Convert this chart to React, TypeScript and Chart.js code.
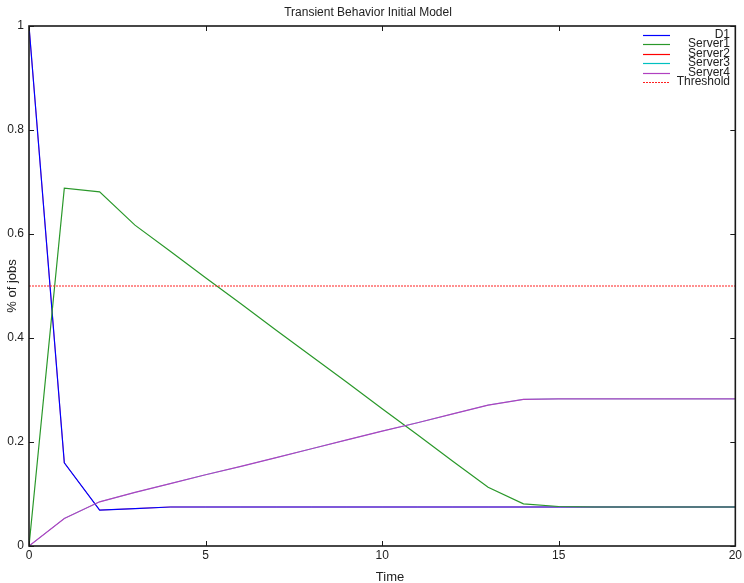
import React, { useEffect, useRef } from "react";
import { Chart, registerables } from "chart.js";

Chart.register(...registerables);

const times = [0, 1, 2, 3, 4, 5, 6, 7, 8, 9, 10, 11, 12, 13, 14, 15, 16, 17, 18, 19, 20];
const d1 = [1, 0.16, 0.069, 0.072, 0.075, 0.075, 0.075, 0.075, 0.075, 0.075, 0.075, 0.075, 0.075, 0.075, 0.075, 0.075, 0.075, 0.075, 0.075, 0.075, 0.075];
const server1 = [0, 0.688, 0.681, 0.617, 0.567, 0.516, 0.466, 0.415, 0.365, 0.315, 0.264, 0.214, 0.163, 0.113, 0.081, 0.076, 0.075, 0.075, 0.075, 0.075, 0.075];
const server2 = [1, 0.16, 0.069, 0.072, 0.075, 0.075, 0.075, 0.075, 0.075, 0.075, 0.075, 0.075, 0.075, 0.075, 0.075, 0.075, 0.075, 0.075, 0.075, 0.075, 0.075];
const server3 = [0, 0.053, 0.085, 0.103, 0.12, 0.137, 0.153, 0.17, 0.187, 0.204, 0.221, 0.237, 0.254, 0.271, 0.282, 0.283, 0.283, 0.283, 0.283, 0.283, 0.283];
const server4 = [0, 0.053, 0.085, 0.103, 0.12, 0.137, 0.153, 0.17, 0.187, 0.204, 0.221, 0.237, 0.254, 0.271, 0.282, 0.283, 0.283, 0.283, 0.283, 0.283, 0.283];
const thresholdTimes = [0, 20];
const thresholdValues = [0.5, 0.5];

const seriesNames = ["D1", "Server1", "Server2", "Server3", "Server4", "Threshold"];
const xTicks = [0, 5, 10, 15, 20];
const yTicks = [0, 0.2, 0.4, 0.6, 0.8, 1];
const chartTitle = "Transient Behavior Initial Model";
const xTitle = "Time";
const yTitle = "% of jobs";

const FONT = "'Liberation Sans', Arial, Helvetica, sans-serif";

const toPts = (xs: number[], ys: number[]) => xs.map((x, i) => ({ x, y: ys[i] }));

const framePlugin = {
  id: "frame",
  afterDatasetsDraw(chart: any) {
    const { ctx, chartArea } = chart;
    const { left, right, top, bottom } = chartArea;
    const xs = chart.scales.x;
    const ys = chart.scales.y;
    ctx.save();
    ctx.strokeStyle = "#1a1a1a";
    ctx.lineWidth = 1;
    ctx.beginPath();
    xTicks.forEach((v) => {
      const px = Math.round(xs.getPixelForValue(v)) + 0.5;
      ctx.moveTo(px, bottom);
      ctx.lineTo(px, bottom - 5);
      ctx.moveTo(px, top);
      ctx.lineTo(px, top + 5);
    });
    yTicks.forEach((v) => {
      const py = Math.round(ys.getPixelForValue(v)) + 0.5;
      ctx.moveTo(left, py);
      ctx.lineTo(left + 5, py);
      ctx.moveTo(right, py);
      ctx.lineTo(right - 5, py);
    });
    ctx.stroke();
    ctx.lineWidth = 1.6;
    ctx.strokeRect(left, top, right - left, bottom - top);

    ctx.fillStyle = "#222";
    ctx.font = `13px ${FONT}`;
    ctx.textAlign = "center";
    ctx.textBaseline = "middle";
    ctx.fillText(xTitle, 390, 577);
    ctx.save();
    ctx.translate(12.5, (top + bottom) / 2);
    ctx.rotate(-Math.PI / 2);
    ctx.fillText(yTitle, 0, 0);
    ctx.restore();
    ctx.restore();
  },
};

const legendPlugin = {
  id: "customLegend",
  afterDraw(chart: any) {
    const { ctx } = chart;
    ctx.save();
    ctx.font = `12px ${FONT}`;
    ctx.textAlign = "right";
    ctx.textBaseline = "middle";
    chart.data.datasets.forEach((ds: any, i: number) => {
      const y = 34.5 + i * 9.5;
      ctx.strokeStyle = ds.borderColor;
      ctx.lineWidth = 1.2;
      ctx.setLineDash(ds.borderDash || []);
      ctx.beginPath();
      ctx.moveTo(643, Math.round(y) + 0.5);
      ctx.lineTo(670, Math.round(y) + 0.5);
      ctx.stroke();
      ctx.setLineDash([]);
      ctx.fillStyle = "#222";
      ctx.fillText(ds.label, 730, y);
    });
    ctx.restore();
  },
};

export default function App() {
  const ref = useRef<HTMLCanvasElement>(null);
  useEffect(() => {
    if (!ref.current) return;
    const common = { borderWidth: 1.2, pointRadius: 0, fill: false, tension: 0 };
    const chart = new Chart(ref.current, {
      type: "line",
      data: {
        datasets: [
          { ...common, label: seriesNames[0], data: toPts(times, d1), borderColor: "#0000ff", order: 4 },
          { ...common, label: seriesNames[1], data: toPts(times, server1), borderColor: "#2a982a", order: 3 },
          { ...common, label: seriesNames[2], data: toPts(times, server2), borderColor: "#ff0000", borderWidth: 0.6, order: 5 },
          { ...common, label: seriesNames[3], data: toPts(times, server3), borderColor: "#00c0c0", borderWidth: 0.6, order: 2 },
          { ...common, label: seriesNames[4], data: toPts(times, server4), borderColor: "#b040c0", order: 1 },
          { ...common, label: seriesNames[5], data: toPts(thresholdTimes, thresholdValues), borderColor: "#ff2020", borderDash: [2, 1], order: 0 },
        ] as any,
      },
      options: {
        responsive: false,
        animation: false,
        layout: { padding: { top: 0, right: 8, bottom: 0, left: 0 } },
        plugins: {
          legend: { display: false },
          tooltip: { enabled: false },
          title: {
            display: true,
            text: chartTitle,
            color: "#222",
            font: { family: FONT, size: 12, weight: "normal", lineHeight: 1.2 },
            padding: { top: 5, bottom: 6.6 },
          },
        },
        scales: {
          x: {
            type: "linear",
            min: 0,
            max: 20,
            grid: { display: false, drawTicks: false },
            border: { display: false },
            afterBuildTicks: (s: any) => { s.ticks = xTicks.map((v) => ({ value: v })); },
            ticks: { color: "#222", font: { family: FONT, size: 12 }, padding: 2, maxRotation: 0 },
            title: { display: false },
            afterFit: (s: any) => { s.height = 37; },
          },
          y: {
            type: "linear",
            min: 0,
            max: 1,
            grid: { display: false, drawTicks: false },
            border: { display: false },
            afterBuildTicks: (s: any) => { s.ticks = yTicks.map((v) => ({ value: v })); },
            ticks: { color: "#222", font: { family: FONT, size: 12 }, padding: 5, callback: (v: any) => String(Math.round(v * 10) / 10) },
            title: { display: false },
            afterFit: (s: any) => { s.width = 29; },
          },
        },
      },
      plugins: [framePlugin, legendPlugin],
    });
    return () => chart.destroy();
  }, []);
  return (
    <div style={{ position: "absolute", left: 0, top: 0, width: 744, height: 583, background: "#fff" }}>
      <canvas ref={ref} width={744} height={583} style={{ display: "block" }} />
    </div>
  );
}
